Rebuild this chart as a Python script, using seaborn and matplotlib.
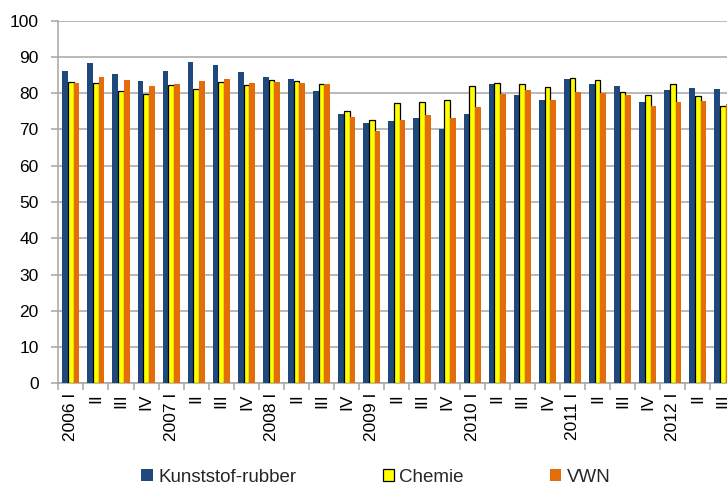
import matplotlib
matplotlib.use("Agg")
import matplotlib.pyplot as plt
from matplotlib import font_manager
from matplotlib.patches import Patch
import seaborn as sns
import pandas as pd

# Quarterly capacity utilisation (%)
quarters = [f"{y}Q{q}" for y in range(2006, 2013) for q in range(1, 5)][:27]
tick_labels = ["2006 I", "II", "III", "IV", "2007 I", "II", "III", "IV",
               "2008 I", "II", "III", "IV", "2009 I", "II", "III", "IV",
               "2010 I", "II", "III", "IV", "2011 I", "II", "III", "IV",
               "2012 I", "II", "III"]
series_names = ["Kunststof-rubber", "Chemie", "VWN"]
kunststof_rubber = [86.0, 88.3, 85.3, 83.3, 86.0, 88.5, 87.7, 85.8,
                    84.4, 84.0, 80.5, 74.4, 71.7, 72.3, 73.1, 70.0,
                    74.4, 82.5, 79.6, 78.2, 83.8, 82.6, 82.0, 77.7,
                    81.0, 81.5, 81.2]
chemie = [83.1, 82.8, 80.5, 79.8, 82.4, 81.1, 83.2, 82.2,
          83.7, 83.4, 82.6, 75.0, 72.6, 77.3, 77.7, 78.0,
          81.9, 82.8, 82.5, 81.6, 84.3, 83.7, 80.4, 79.5,
          82.6, 79.2, 76.5]
vwn = [82.7, 84.5, 83.7, 82.1, 82.5, 83.3, 83.8, 82.8,
       83.2, 82.7, 82.6, 73.5, 69.6, 72.5, 73.9, 73.1,
       76.3, 79.7, 80.8, 78.2, 80.3, 80.1, 79.6, 76.5,
       77.6, 77.9, 77.0]
colors = ["#1F497D", "#FFFF00", "#E46C0A"]

df = pd.DataFrame({
    "kwartaal": quarters * 3,
    "reeks": [series_names[0]] * 27 + [series_names[1]] * 27 + [series_names[2]] * 27,
    "waarde": kunststof_rubber + chemie + vwn,
})

sns.set_style("white")
installed = {f.name for f in font_manager.fontManager.ttflist}
family = [f for f in ["Liberation Sans Narrow", "Liberation Sans", "DejaVu Sans"] if f in installed]
plt.rcParams["font.family"] = family

W, H = 727, 486
fig = plt.figure(figsize=(W / 100, H / 100), dpi=100)
left, right, bottom, top = 58.3, 735.5, 383.3, 20.7
ax = fig.add_axes([left / W, 1 - bottom / H, (right - left) / W, (bottom - top) / H])

sns.barplot(data=df, x="kwartaal", y="waarde", hue="reeks", order=quarters,
            hue_order=series_names, palette=colors, saturation=1, width=0.68,
            legend=False, ax=ax, zorder=3)

for i, cont in enumerate(ax.containers):
    for bar in cont:
        if i == 1:
            bar.set_edgecolor("black")
            bar.set_linewidth(0.9)
        else:
            bar.set_edgecolor("none")

grid_col = "#A6A6A6"
ax.set_ylim(0, 100)
ax.set_xlim(-0.5, 26.5)
ax.set_yticks(range(0, 101, 10))
ax.yaxis.grid(True, color=grid_col, linewidth=1.1, zorder=0)
ax.set_axisbelow(True)
ax.set_xlabel("")
ax.set_ylabel("")

for side in ["top", "right"]:
    ax.spines[side].set_visible(False)
for side in ["left", "bottom"]:
    ax.spines[side].set_color(grid_col)
    ax.spines[side].set_linewidth(1.1)

ax.tick_params(axis="y", which="major", length=5, width=1.1, color=grid_col,
               pad=9, labelsize=12.5, labelcolor="black", left=True, direction="out")
ax.set_xticks(range(27))
ax.set_xticklabels(tick_labels, rotation=90, va="top", ha="center")
ax.set_xticks([i - 0.5 for i in range(28)], minor=True)
ax.tick_params(axis="x", which="major", length=0, pad=7, labelsize=12.5, labelcolor="black")
ax.tick_params(axis="x", which="minor", length=5, width=1.1, color=grid_col,
               bottom=True, direction="out")

handles = [Patch(facecolor=colors[0], edgecolor="none"),
           Patch(facecolor=colors[1], edgecolor="black", linewidth=0.9),
           Patch(facecolor=colors[2], edgecolor="none")]
fig.legend(handles, series_names, loc="center", ncol=3,
           bbox_to_anchor=(376 / W, 1 - 477 / H), bbox_transform=fig.transFigure,
           frameon=False, fontsize=13.5, handlelength=0.6, handleheight=0.6,
           handletextpad=0.3, columnspacing=4.6, borderpad=0)

fig.savefig("out.png", dpi=100)
